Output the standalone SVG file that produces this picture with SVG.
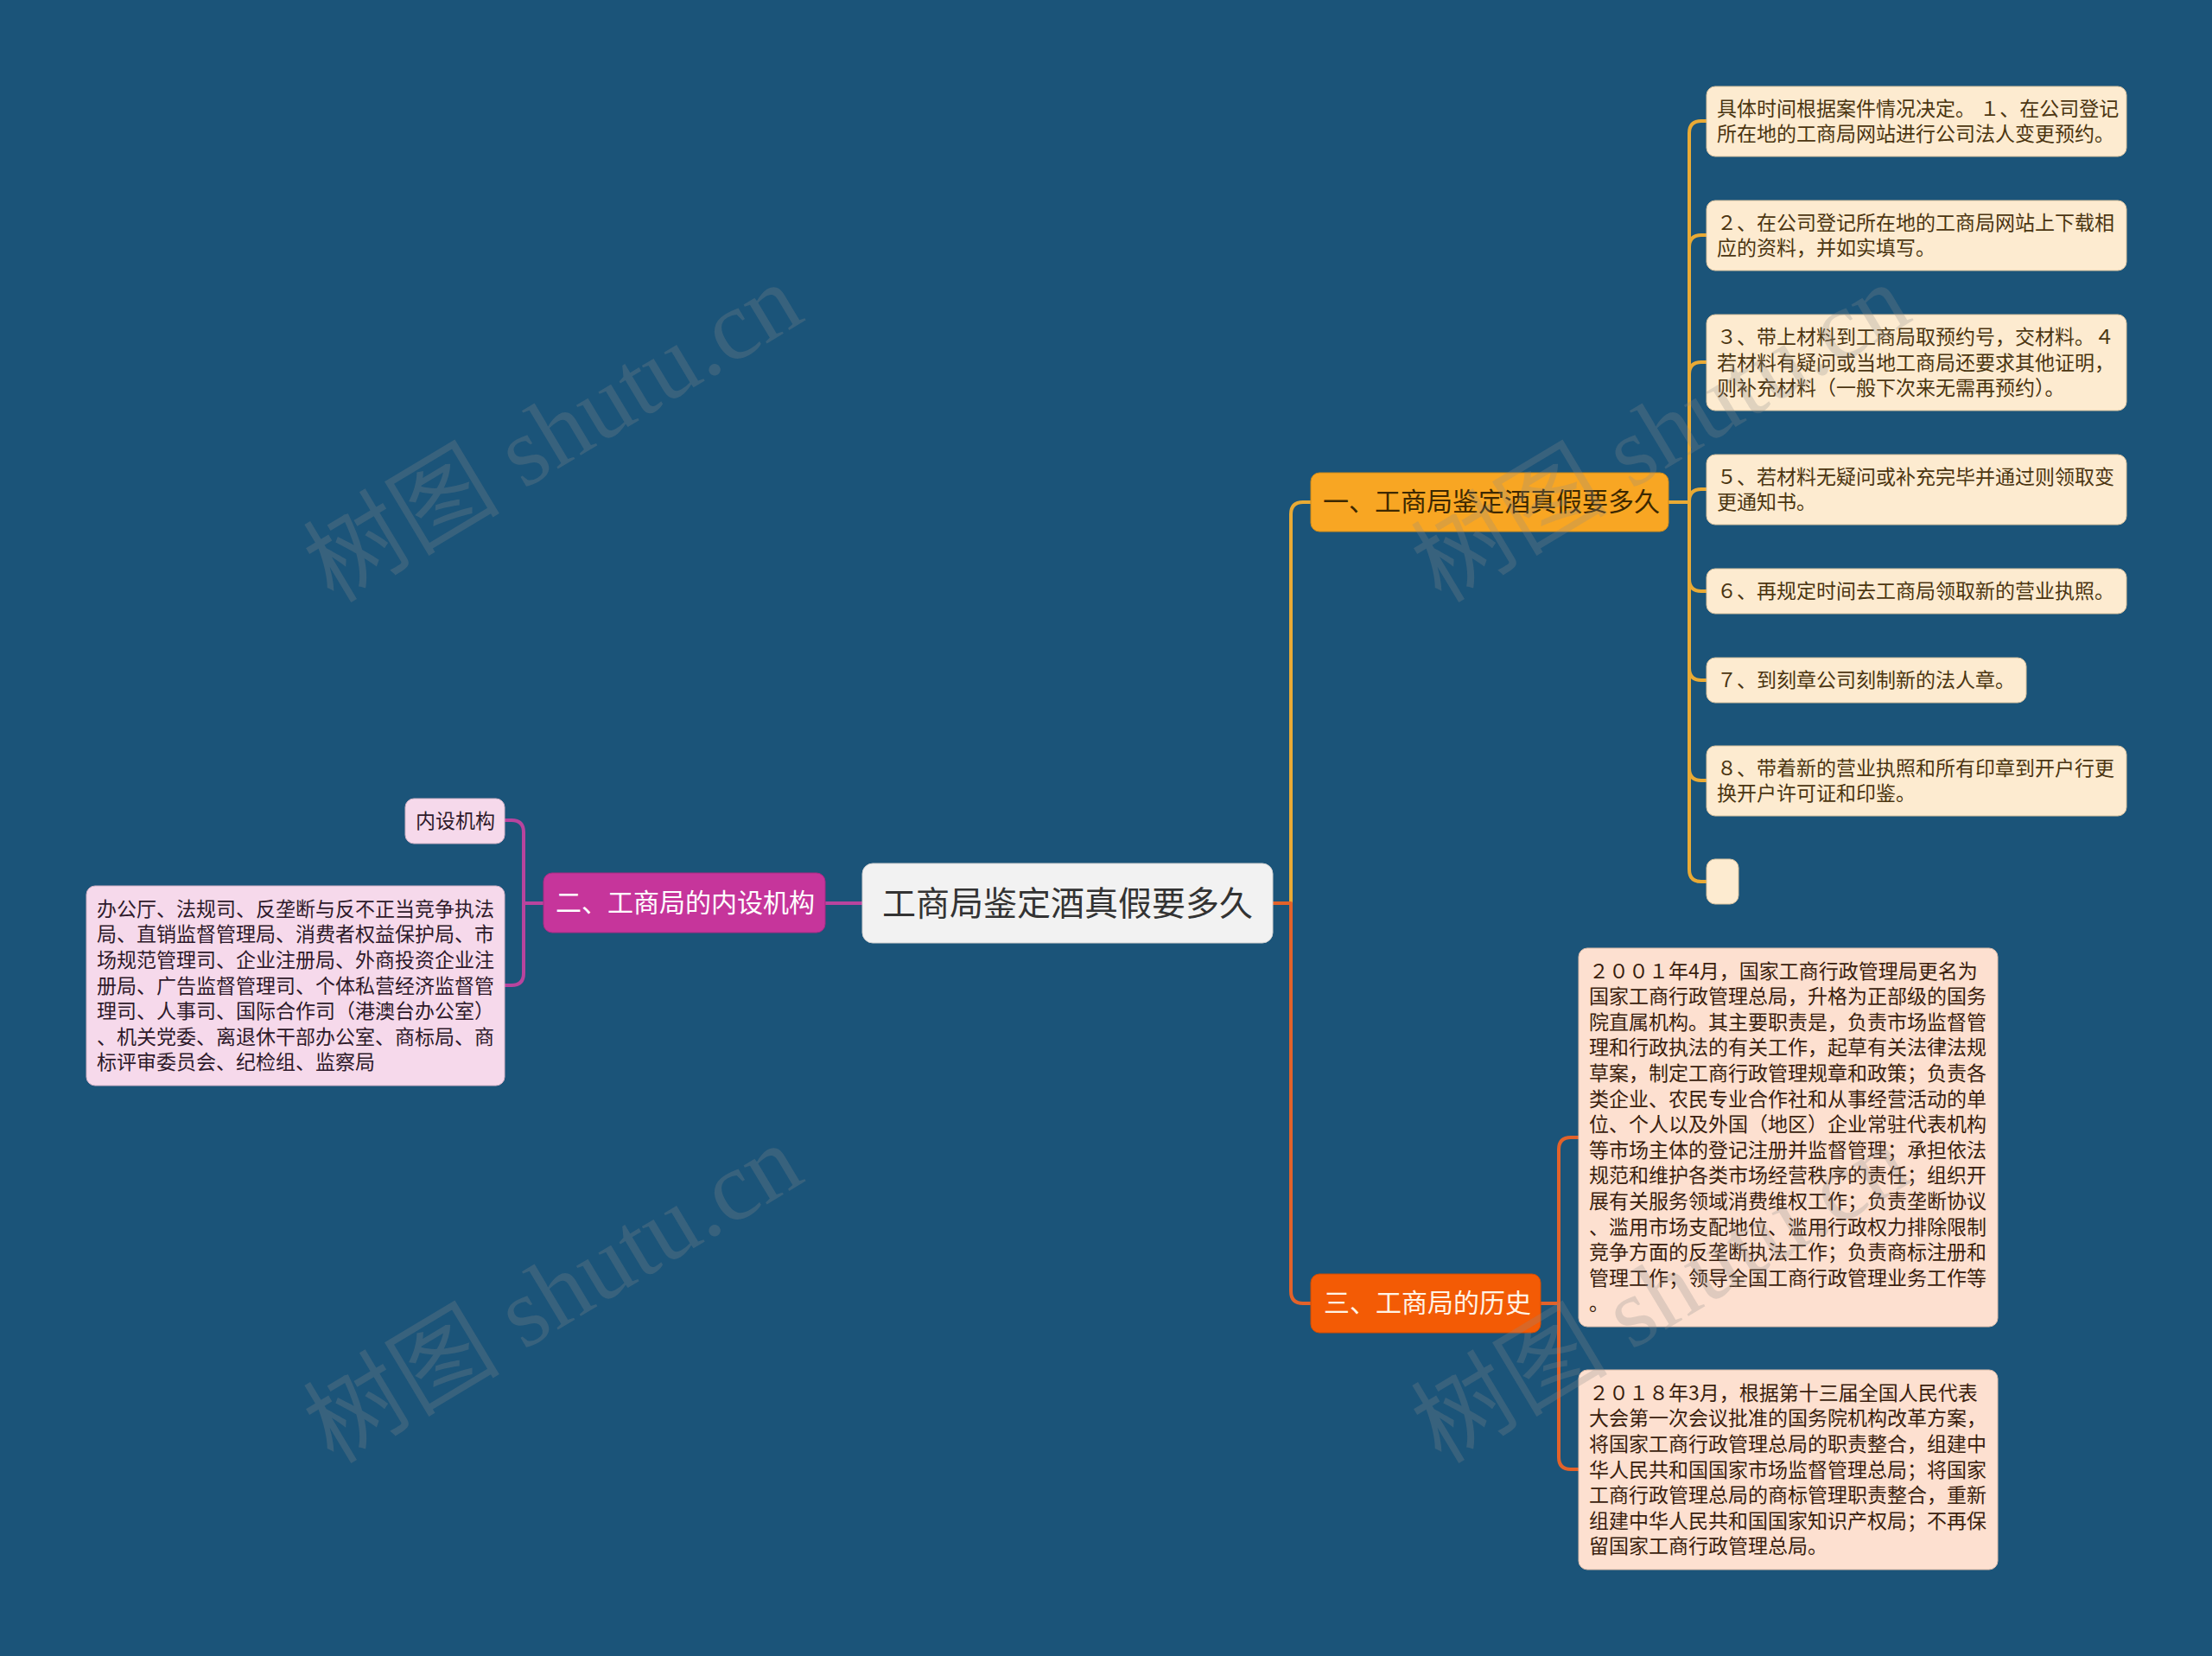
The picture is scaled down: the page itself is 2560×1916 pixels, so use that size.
<svg xmlns="http://www.w3.org/2000/svg" width="2560" height="1916" viewBox="0 0 2560 1916">
<style>
text{font-family:"Noto Sans CJK SC","Noto Sans",sans-serif;dominant-baseline:central}
.root rect{fill:#f2f2f2;stroke:#d0d0d0;stroke-width:1}
.root text{font-size:39px;fill:#333333}
.b1 rect{fill:#f8a623;stroke:#d08a18;stroke-width:1}
.b1 text{font-size:30px;fill:#3d2800}
.b2 rect{fill:#c6359b;stroke:#a82a83;stroke-width:1}
.b2 text{font-size:30px;fill:#ffffff}
.b3 rect{fill:#f35b05;stroke:#d04d04;stroke-width:1}
.b3 text{font-size:30px;fill:#fff4e6}
.l1 rect{fill:#fdebd0;stroke:#d9c3a0;stroke-width:1}
.l1 text{font-size:23px;fill:#4b3511}
.l2 rect{fill:#f6d9eb;stroke:#d2b2c6;stroke-width:1}
.l2 text{font-size:23px;fill:#2e1a2a}
.l3 rect{fill:#fde0d0;stroke:#dcbcaa;stroke-width:1}
.l3 text{font-size:23px;fill:#3a1e0e}
.c{fill:none;stroke-width:4;stroke-linecap:round;stroke-linejoin:round}
.cy{stroke:#e9aa35}
.co{stroke:#e2622a}
.cm{stroke:#b8449e}
.wm{font-family:"Liberation Serif","Noto Sans CJK SC",serif;font-size:114px;fill:#8a8a8a;fill-opacity:0.26;dominant-baseline:auto}
</style>
<rect x="0" y="0" width="2560" height="1916" fill="#1b5479"/>

<g id="connectors">
  <path class="c cy" d="M1473,1045 H1494 V595 Q1494,581 1508,581 H1517"/>
  <path class="c co" d="M1473,1045 H1494 V1494 Q1494,1508 1508,1508 H1517"/>
  <path class="c cm" d="M998,1045 H955"/>
  <path class="c cy" d="M1931,581 H1955 V154 Q1955,140 1969,140 H1975"/>
  <path class="c cy" d="M1931,581 H1955 V286 Q1955,272 1969,272 H1975"/>
  <path class="c cy" d="M1931,581 H1955 V433 Q1955,419 1969,419 H1975"/>
  <path class="c cy" d="M1931,581 H1955 V580 Q1955,566 1969,566 H1975"/>
  <path class="c cy" d="M1931,581 H1955 V670 Q1955,684 1969,684 H1975"/>
  <path class="c cy" d="M1931,581 H1955 V773 Q1955,787 1969,787 H1975"/>
  <path class="c cy" d="M1931,581 H1955 V889 Q1955,903 1969,903 H1975"/>
  <path class="c cy" d="M1931,581 H1955 V1006 Q1955,1020 1969,1020 H1975"/>
  <path class="c cm" d="M629,1045 H606 V963 Q606,949 592,949 H584"/>
  <path class="c cm" d="M629,1045 H606 V1126 Q606,1140 592,1140 H584"/>
  <path class="c co" d="M1783,1508 H1804 V1330 Q1804,1316 1818,1316 H1827"/>
  <path class="c co" d="M1783,1508 H1804 V1686 Q1804,1700 1818,1700 H1827"/>
</g>

<g id="root" class="root">
  <rect x="998" y="999" width="475" height="92" rx="12"/>
  <text x="1235.5" y="1042" text-anchor="middle">工商局鉴定酒真假要多久</text>
</g>

<g id="branch1" class="b1">
  <rect x="1517" y="547" width="414" height="68" rx="10"/>
  <text x="1531" y="578">一、工商局鉴定酒真假要多久</text>
</g>
<g id="branch2" class="b2">
  <rect x="629" y="1010" width="326" height="69" rx="10"/>
  <text x="643" y="1042">二、工商局的内设机构</text>
</g>
<g id="branch3" class="b3">
  <rect x="1517" y="1474" width="266" height="68" rx="10"/>
  <text x="1532" y="1505">三、工商局的历史</text>
</g>

<g id="leaf1-1" class="l1">
  <rect x="1975" y="100" width="486" height="81" rx="10"/>
  <text x="1987" y="123.7">具体时间根据案件情况决定。 １、在公司登记</text>
  <text x="1987" y="153.3">所在地的工商局网站进行公司法人变更预约。</text>
</g>
<g id="leaf1-2" class="l1">
  <rect x="1975" y="232" width="486" height="81" rx="10"/>
  <text x="1987" y="255.7">２、在公司登记所在地的工商局网站上下载相</text>
  <text x="1987" y="285.3">应的资料，并如实填写。</text>
</g>
<g id="leaf1-3" class="l1">
  <rect x="1975" y="364" width="486" height="111" rx="10"/>
  <text x="1987" y="387.9">３、带上材料到工商局取预约号，交材料。４</text>
  <text x="1987" y="417.5">若材料有疑问或当地工商局还要求其他证明，</text>
  <text x="1987" y="447.1">则补充材料（一般下次来无需再预约）。</text>
</g>
<g id="leaf1-4" class="l1">
  <rect x="1975" y="526" width="486" height="81" rx="10"/>
  <text x="1987" y="549.7">５、若材料无疑问或补充完毕并通过则领取变</text>
  <text x="1987" y="579.3">更通知书。</text>
</g>
<g id="leaf1-5" class="l1">
  <rect x="1975" y="658" width="486" height="52" rx="10"/>
  <text x="1987" y="682">６、再规定时间去工商局领取新的营业执照。</text>
</g>
<g id="leaf1-6" class="l1">
  <rect x="1975" y="761" width="370" height="52" rx="10"/>
  <text x="1987" y="785">７、到刻章公司刻制新的法人章。</text>
</g>
<g id="leaf1-7" class="l1">
  <rect x="1975" y="863" width="486" height="81" rx="10"/>
  <text x="1987" y="886.7">８、带着新的营业执照和所有印章到开户行更</text>
  <text x="1987" y="916.3">换开户许可证和印鉴。</text>
</g>
<g id="leaf1-8" class="l1">
  <rect x="1975" y="994" width="37" height="52" rx="10"/>
</g>

<g id="leaf2-1" class="l2">
  <rect x="469" y="924" width="115" height="52" rx="10"/>
  <text x="527" y="948" text-anchor="middle">内设机构</text>
</g>
<g id="leaf2-2" class="l2">
  <rect x="100" y="1025" width="484" height="231" rx="10"/>
  <text x="112" y="1049.7">办公厅、法规司、反垄断与反不正当竞争执法</text>
  <text x="112" y="1079.3">局、直销监督管理局、消费者权益保护局、市</text>
  <text x="112" y="1108.9">场规范管理司、企业注册局、外商投资企业注</text>
  <text x="112" y="1138.5">册局、广告监督管理司、个体私营经济监督管</text>
  <text x="112" y="1168.1">理司、人事司、国际合作司（港澳台办公室）</text>
  <text x="112" y="1197.7">、机关党委、离退休干部办公室、商标局、商</text>
  <text x="112" y="1227.3">标评审委员会、纪检组、监察局</text>
</g>

<g id="leaf3-1" class="l3">
  <rect x="1827" y="1097" width="485" height="438" rx="10"/>
  <text x="1839" y="1121.6">２００１年4月，国家工商行政管理局更名为</text>
  <text x="1839" y="1151.2">国家工商行政管理总局，升格为正部级的国务</text>
  <text x="1839" y="1180.8">院直属机构。其主要职责是，负责市场监督管</text>
  <text x="1839" y="1210.4">理和行政执法的有关工作，起草有关法律法规</text>
  <text x="1839" y="1240.0">草案，制定工商行政管理规章和政策；负责各</text>
  <text x="1839" y="1269.6">类企业、农民专业合作社和从事经营活动的单</text>
  <text x="1839" y="1299.2">位、个人以及外国（地区）企业常驻代表机构</text>
  <text x="1839" y="1328.8">等市场主体的登记注册并监督管理；承担依法</text>
  <text x="1839" y="1358.4">规范和维护各类市场经营秩序的责任；组织开</text>
  <text x="1839" y="1388.0">展有关服务领域消费维权工作；负责垄断协议</text>
  <text x="1839" y="1417.6">、滥用市场支配地位、滥用行政权力排除限制</text>
  <text x="1839" y="1447.2">竞争方面的反垄断执法工作；负责商标注册和</text>
  <text x="1839" y="1476.8">管理工作；领导全国工商行政管理业务工作等</text>
  <text x="1839" y="1506.4">。</text>
</g>
<g id="leaf3-2" class="l3">
  <rect x="1827" y="1585" width="485" height="231" rx="10"/>
  <text x="1839" y="1609.7">２０１８年3月，根据第十三届全国人民代表</text>
  <text x="1839" y="1639.3">大会第一次会议批准的国务院机构改革方案，</text>
  <text x="1839" y="1668.9">将国家工商行政管理总局的职责整合，组建中</text>
  <text x="1839" y="1698.5">华人民共和国国家市场监督管理总局；将国家</text>
  <text x="1839" y="1728.1">工商行政管理总局的商标管理职责整合，重新</text>
  <text x="1839" y="1757.7">组建中华人民共和国国家知识产权局；不再保</text>
  <text x="1839" y="1787.3">留国家工商行政管理总局。</text>
</g>

<g id="watermark">
  <text class="wm" x="660" y="534" text-anchor="middle" transform="rotate(-31 660 534)">树图 shutu.cn</text>
  <text class="wm" x="1942" y="534" text-anchor="middle" transform="rotate(-31 1942 534)">树图 shutu.cn</text>
  <text class="wm" x="660" y="1530" text-anchor="middle" transform="rotate(-31 660 1530)">树图 shutu.cn</text>
  <text class="wm" x="1942" y="1530" text-anchor="middle" transform="rotate(-31 1942 1530)">树图 shutu.cn</text>
</g>
</svg>
